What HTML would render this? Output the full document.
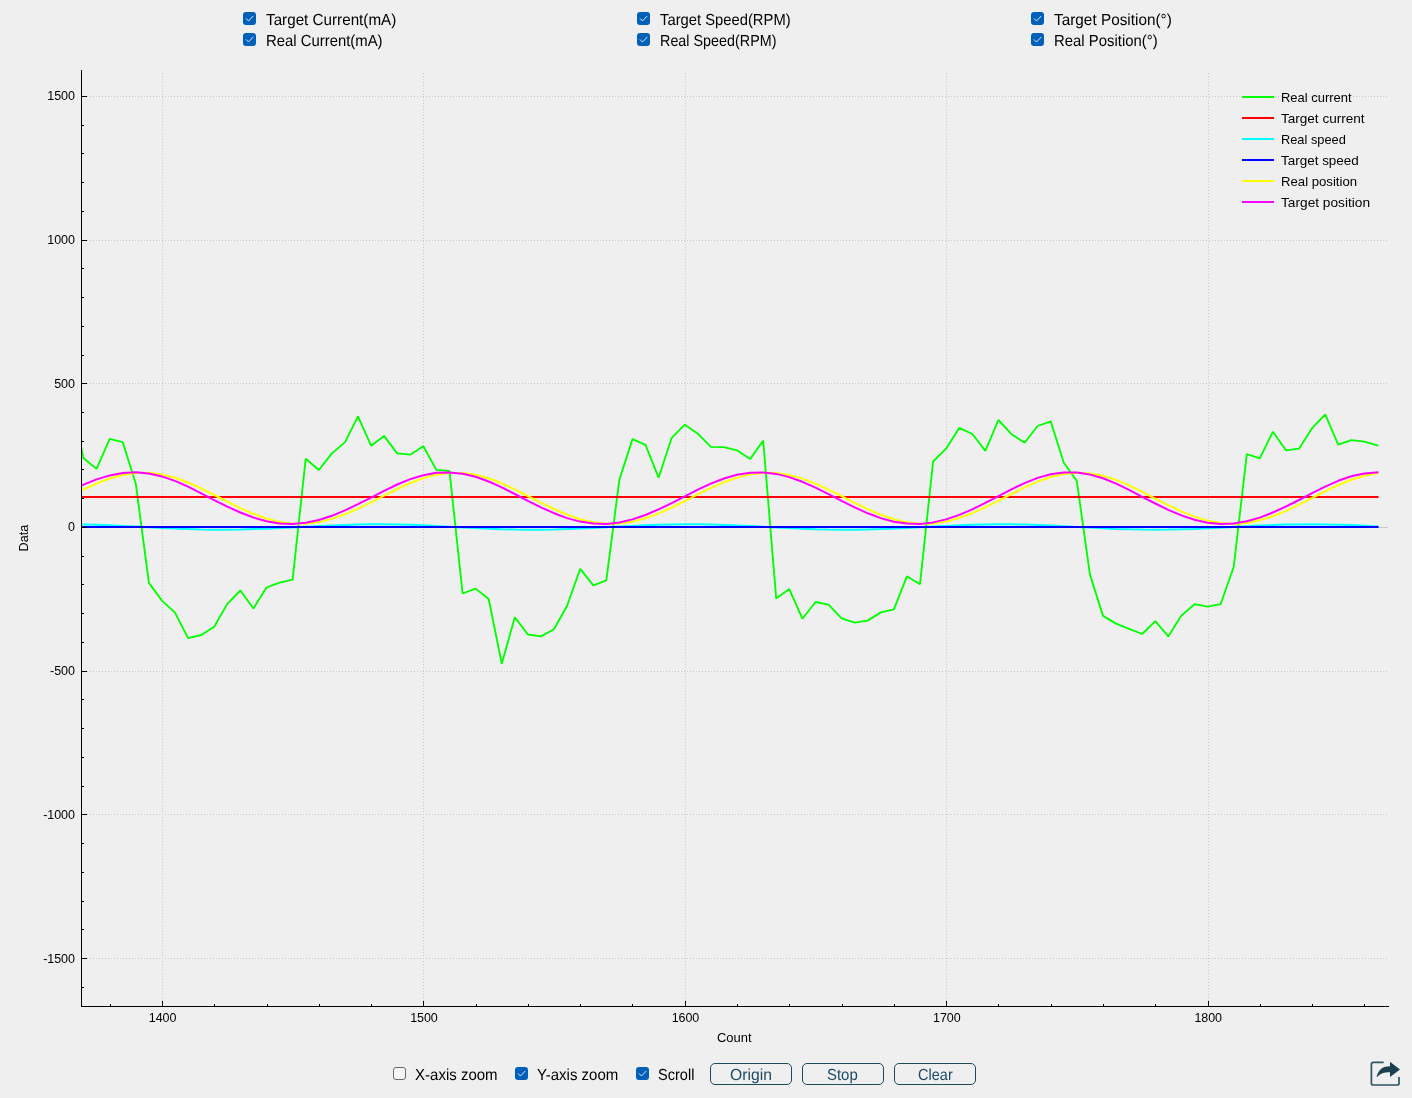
<!DOCTYPE html>
<html><head><meta charset="utf-8"><title>Plot</title>
<style>
html,body{margin:0;padding:0}
body{width:1412px;height:1098px;background:#efefef;position:relative;overflow:hidden;font-family:"Liberation Sans",sans-serif;color:#000}
#plot{position:absolute;left:0;top:0}
.t{position:absolute;white-space:nowrap;line-height:1}
.ui{}
.bt{color:#1e4a66}
.cb{position:absolute;width:13px;height:13px;border-radius:3px;background:#005fb8;box-sizing:border-box}
.cb svg{position:absolute;left:0;top:0}
.cb.off{background:#f6f6f6;border:1px solid #6a6a6a}
.yl{text-align:right;width:60px;color:#000}
.xl{text-align:center;width:60px;color:#000}
.lg{color:#000}
.ax{color:#000}
.btn{position:absolute;box-sizing:border-box;width:82px;height:22px;border:1px solid #1f4a5c;border-radius:5px}
</style></head><body>

<svg id="plot" width="1412" height="1098" viewBox="0 0 1412 1098">
<defs><clipPath id="cp"><rect x="82" y="70" width="1307" height="936"/></clipPath></defs>
<g shape-rendering="crispEdges" stroke="#c8c8c8" stroke-width="1" stroke-dasharray="1 2" fill="none">
<path d="M81 96.5H1388"/>
<path d="M81 240.5H1388"/>
<path d="M81 383.5H1388"/>
<path d="M81 671.5H1388"/>
<path d="M81 814.5H1388"/>
<path d="M81 958.5H1388"/>
<path d="M162.5 73V1006"/>
<path d="M423.5 73V1006"/>
<path d="M685.5 73V1006"/>
<path d="M946.5 73V1006"/>
<path d="M1208.5 73V1006"/>
</g>
<path d="M82 527.5H1388" stroke="#c8c8c8" stroke-width="1" shape-rendering="crispEdges"/>
<g clip-path="url(#cp)" fill="none" stroke-width="2" stroke-linejoin="bevel" stroke-linecap="square">
<polyline stroke="#00ff00" stroke-width="1.85" points="70.5,398.4 83.5,458.3 96.6,468.9 109.7,438.9 122.7,442.1 135.8,483.7 148.9,582.9 161.9,600.6 175.0,612.6 188.1,638.1 201.2,635.0 214.2,626.8 227.3,603.9 240.4,590.5 253.4,608.5 266.5,587.5 279.6,582.6 292.6,579.6 305.7,458.8 318.8,470.0 331.9,453.4 344.9,442.4 358.0,416.4 371.1,445.7 384.1,435.9 397.2,453.4 410.3,454.7 423.3,446.2 436.4,469.9 449.5,471.0 462.6,593.5 475.6,588.6 488.7,599.0 501.8,663.7 514.8,617.3 527.9,634.5 541.0,636.4 554.0,629.3 567.1,605.8 580.2,568.9 593.3,585.3 606.3,580.4 619.4,479.6 632.5,439.1 645.5,444.9 658.6,477.7 671.7,437.8 684.8,424.7 697.8,433.7 710.9,446.8 724.0,447.1 737.0,450.3 750.1,459.1 763.2,440.5 776.2,598.4 789.3,589.1 802.4,618.7 815.5,602.0 828.5,604.7 841.6,618.4 854.7,622.7 867.7,620.6 880.8,612.4 893.9,609.4 906.9,576.3 920.0,584.2 933.1,461.5 946.1,448.7 959.2,427.9 972.3,434.0 985.4,450.9 998.4,420.0 1011.5,434.2 1024.6,442.7 1037.6,426.0 1050.7,421.4 1063.8,462.7 1076.8,480.9 1089.9,574.4 1103.0,615.9 1116.1,623.6 1129.1,628.8 1142.2,634.0 1155.3,621.1 1168.3,636.4 1181.4,615.6 1194.5,604.2 1207.5,606.6 1220.6,604.2 1233.7,567.0 1246.8,454.2 1259.8,458.3 1272.9,431.8 1286.0,450.3 1299.0,448.7 1312.1,428.2 1325.2,414.3 1338.2,444.6 1351.3,440.2 1364.4,441.6 1377.5,445.4"/>
<polyline stroke="#ff0000" points="70.5,497 1377.5,497"/>
<polyline stroke="#00ffff" points="70.5,524.3 83.5,524.5 96.6,524.8 109.7,525.3 122.7,525.9 135.8,526.6 148.9,527.3 161.9,528.0 175.0,528.6 188.1,529.1 201.2,529.5 214.2,529.7 227.3,529.7 240.4,529.5 253.4,529.1 266.5,528.7 279.6,528.1 292.6,527.4 305.7,526.7 318.8,526.0 331.9,525.4 344.9,524.9 358.0,524.5 371.1,524.3 384.1,524.3 397.2,524.5 410.3,524.8 423.3,525.3 436.4,526.0 449.5,526.7 462.6,527.4 475.6,528.1 488.7,528.7 501.8,529.2 514.8,529.5 527.9,529.7 541.0,529.7 554.0,529.5 567.1,529.1 580.2,528.6 593.3,527.9 606.3,527.3 619.4,526.6 632.5,525.9 645.5,525.3 658.6,524.8 671.7,524.5 684.8,524.3 697.8,524.3 710.9,524.5 724.0,524.9 737.0,525.4 750.1,526.0 763.2,526.7 776.2,527.4 789.3,528.1 802.4,528.7 815.5,529.2 828.5,529.5 841.6,529.7 854.7,529.7 867.7,529.4 880.8,529.1 893.9,528.5 906.9,527.9 920.0,527.2 933.1,526.5 946.1,525.9 959.2,525.3 972.3,524.8 985.4,524.5 998.4,524.3 1011.5,524.3 1024.6,524.6 1037.6,525.0 1050.7,525.5 1063.8,526.2 1076.8,526.9 1089.9,527.6 1103.0,528.3 1116.1,528.9 1129.1,529.3 1142.2,529.6 1155.3,529.7 1168.3,529.6 1181.4,529.3 1194.5,528.9 1207.5,528.3 1220.6,527.7 1233.7,527.0 1246.8,526.3 1259.8,525.6 1272.9,525.1 1286.0,524.6 1299.0,524.4 1312.1,524.3 1325.2,524.4 1338.2,524.7 1351.3,525.1 1364.4,525.7 1377.5,526.4"/>
<polyline stroke="#0000ff" points="70.5,527 1377.5,527"/>
<polyline stroke="#ffff00" points="70.5,496.0 83.5,489.4 96.6,483.5 109.7,478.5 122.7,475.0 135.8,473.0 148.9,472.8 161.9,474.4 175.0,477.7 188.1,482.5 201.2,488.4 214.2,495.0 227.3,501.7 240.4,508.1 253.4,513.8 266.5,518.5 279.6,521.9 292.6,523.6 305.7,523.7 318.8,522.1 331.9,518.9 344.9,514.3 358.0,508.7 371.1,502.3 384.1,495.7 397.2,489.0 410.3,483.0 423.3,478.1 436.4,474.7 449.5,472.9 462.6,473.0 475.6,474.8 488.7,478.3 501.8,483.3 514.8,489.3 527.9,496.0 541.0,502.7 554.0,509.0 567.1,514.6 580.2,519.2 593.3,522.3 606.3,523.8 619.4,523.6 632.5,521.7 645.5,518.2 658.6,513.4 671.7,507.5 684.8,501.1 697.8,494.4 710.9,487.9 724.0,482.2 737.0,477.6 750.1,474.4 763.2,472.8 776.2,473.1 789.3,475.0 802.4,478.6 815.5,483.6 828.5,489.6 841.6,496.2 854.7,502.8 867.7,509.2 880.8,514.8 893.9,519.3 906.9,522.3 920.0,523.8 933.1,523.5 946.1,521.6 959.2,518.0 972.3,513.1 985.4,507.2 998.4,500.8 1011.5,494.0 1024.6,487.4 1037.6,481.6 1050.7,477.0 1063.8,474.0 1076.8,472.7 1089.9,473.4 1103.0,475.8 1116.1,479.9 1129.1,485.4 1142.2,491.8 1155.3,498.6 1168.3,505.2 1181.4,511.4 1194.5,516.6 1207.5,520.6 1220.6,523.1 1233.7,523.9 1246.8,522.9 1259.8,520.3 1272.9,516.2 1286.0,510.9 1299.0,504.7 1312.1,498.0 1325.2,491.3 1338.2,485.0 1351.3,479.7 1364.4,475.7 1377.5,473.3"/>
<polyline stroke="#ff00ff" points="70.5,490.8 83.5,484.6 96.6,479.4 109.7,475.4 122.7,473.0 135.8,472.3 148.9,473.5 161.9,476.4 175.0,480.9 188.1,486.7 201.2,493.3 214.2,500.1 227.3,506.6 240.4,512.5 253.4,517.5 266.5,521.2 279.6,523.4 292.6,524.0 305.7,522.8 318.8,520.0 331.9,515.8 344.9,510.4 358.0,504.2 371.1,497.6 384.1,490.8 397.2,484.5 410.3,479.1 423.3,475.2 436.4,472.8 449.5,472.4 462.6,473.7 475.6,476.8 488.7,481.5 501.8,487.4 514.8,494.0 527.9,500.8 541.0,507.3 554.0,513.2 567.1,518.1 580.2,521.6 593.3,523.6 606.3,523.9 619.4,522.5 632.5,519.4 645.5,515.0 658.6,509.4 671.7,503.1 684.8,496.4 697.8,489.7 710.9,483.6 724.0,478.5 737.0,474.8 750.1,472.7 763.2,472.4 776.2,473.9 789.3,477.1 802.4,481.8 815.5,487.6 828.5,494.2 841.6,500.9 854.7,507.4 867.7,513.3 880.8,518.1 893.9,521.7 906.9,523.6 920.0,523.9 933.1,522.4 946.1,519.4 959.2,514.9 972.3,509.3 985.4,502.9 998.4,496.2 1011.5,489.3 1024.6,483.1 1037.6,477.9 1050.7,474.3 1063.8,472.5 1076.8,472.6 1089.9,474.6 1103.0,478.3 1116.1,483.6 1129.1,489.9 1142.2,496.8 1155.3,503.5 1168.3,509.9 1181.4,515.4 1194.5,519.8 1207.5,522.7 1220.6,524.0 1233.7,523.5 1246.8,521.3 1259.8,517.6 1272.9,512.5 1286.0,506.5 1299.0,500.0 1312.1,493.1 1325.2,486.6 1338.2,480.8 1351.3,476.3 1364.4,473.4 1377.5,472.3"/>
</g>
<g shape-rendering="crispEdges" fill="#000">
<rect x="81" y="70" width="1" height="937"/>
<rect x="81" y="1006" width="1308" height="1"/>
<rect x="82" y="96" width="5" height="1"/>
<rect x="82" y="125" width="2" height="1"/>
<rect x="82" y="153" width="2" height="1"/>
<rect x="82" y="182" width="2" height="1"/>
<rect x="82" y="211" width="2" height="1"/>
<rect x="82" y="240" width="5" height="1"/>
<rect x="82" y="268" width="2" height="1"/>
<rect x="82" y="297" width="2" height="1"/>
<rect x="82" y="326" width="2" height="1"/>
<rect x="82" y="355" width="2" height="1"/>
<rect x="82" y="383" width="5" height="1"/>
<rect x="82" y="412" width="2" height="1"/>
<rect x="82" y="441" width="2" height="1"/>
<rect x="82" y="469" width="2" height="1"/>
<rect x="82" y="498" width="2" height="1"/>
<rect x="82" y="527" width="5" height="1"/>
<rect x="82" y="556" width="2" height="1"/>
<rect x="82" y="584" width="2" height="1"/>
<rect x="82" y="613" width="2" height="1"/>
<rect x="82" y="642" width="2" height="1"/>
<rect x="82" y="671" width="5" height="1"/>
<rect x="82" y="699" width="2" height="1"/>
<rect x="82" y="728" width="2" height="1"/>
<rect x="82" y="757" width="2" height="1"/>
<rect x="82" y="786" width="2" height="1"/>
<rect x="82" y="814" width="5" height="1"/>
<rect x="82" y="843" width="2" height="1"/>
<rect x="82" y="872" width="2" height="1"/>
<rect x="82" y="901" width="2" height="1"/>
<rect x="82" y="929" width="2" height="1"/>
<rect x="82" y="958" width="5" height="1"/>
<rect x="82" y="987" width="2" height="1"/>
<rect x="110" y="1004" width="1" height="2"/>
<rect x="162" y="1001" width="1" height="5"/>
<rect x="214" y="1004" width="1" height="2"/>
<rect x="267" y="1004" width="1" height="2"/>
<rect x="319" y="1004" width="1" height="2"/>
<rect x="371" y="1004" width="1" height="2"/>
<rect x="423" y="1001" width="1" height="5"/>
<rect x="476" y="1004" width="1" height="2"/>
<rect x="528" y="1004" width="1" height="2"/>
<rect x="580" y="1004" width="1" height="2"/>
<rect x="632" y="1004" width="1" height="2"/>
<rect x="685" y="1001" width="1" height="5"/>
<rect x="737" y="1004" width="1" height="2"/>
<rect x="789" y="1004" width="1" height="2"/>
<rect x="842" y="1004" width="1" height="2"/>
<rect x="894" y="1004" width="1" height="2"/>
<rect x="946" y="1001" width="1" height="5"/>
<rect x="998" y="1004" width="1" height="2"/>
<rect x="1051" y="1004" width="1" height="2"/>
<rect x="1103" y="1004" width="1" height="2"/>
<rect x="1155" y="1004" width="1" height="2"/>
<rect x="1208" y="1001" width="1" height="5"/>
<rect x="1260" y="1004" width="1" height="2"/>
<rect x="1312" y="1004" width="1" height="2"/>
<rect x="1364" y="1004" width="1" height="2"/>
</g>
<path d="M1242 97H1274" stroke="#00ff00" stroke-width="2"/>
<path d="M1242 118H1274" stroke="#ff0000" stroke-width="2"/>
<path d="M1242 139H1274" stroke="#00ffff" stroke-width="2"/>
<path d="M1242 160H1274" stroke="#0000ff" stroke-width="2"/>
<path d="M1242 181H1274" stroke="#ffff00" stroke-width="2"/>
<path d="M1242 202H1274" stroke="#ff00ff" stroke-width="2"/>
</svg>
<div class="cb" style="left:243px;top:12px"><svg width="13" height="13" viewBox="0 0 13 13"><path d="M3.2 6.7L5.5 9L10 4.2" fill="none" stroke="#fff" stroke-opacity="0.9" stroke-width="0.95" stroke-linecap="round" stroke-linejoin="round"/></svg></div>
<div class="cb" style="left:243px;top:33px"><svg width="13" height="13" viewBox="0 0 13 13"><path d="M3.2 6.7L5.5 9L10 4.2" fill="none" stroke="#fff" stroke-opacity="0.9" stroke-width="0.95" stroke-linecap="round" stroke-linejoin="round"/></svg></div>
<div class="t ui" style="left:265.7px;top:12.46px;font-size:16px;transform:scaleX(0.9516) skewX(0.1deg);transform-origin:0 0;">Target Current(mA)</div>
<div class="t ui" style="left:265.7px;top:33.46px;font-size:16px;transform:scaleX(0.9293) skewX(0.1deg);transform-origin:0 0;">Real Current(mA)</div>
<div class="cb" style="left:637px;top:12px"><svg width="13" height="13" viewBox="0 0 13 13"><path d="M3.2 6.7L5.5 9L10 4.2" fill="none" stroke="#fff" stroke-opacity="0.9" stroke-width="0.95" stroke-linecap="round" stroke-linejoin="round"/></svg></div>
<div class="cb" style="left:637px;top:33px"><svg width="13" height="13" viewBox="0 0 13 13"><path d="M3.2 6.7L5.5 9L10 4.2" fill="none" stroke="#fff" stroke-opacity="0.9" stroke-width="0.95" stroke-linecap="round" stroke-linejoin="round"/></svg></div>
<div class="t ui" style="left:659.7px;top:12.46px;font-size:16px;transform:scaleX(0.9237) skewX(0.1deg);transform-origin:0 0;">Target Speed(RPM)</div>
<div class="t ui" style="left:659.7px;top:33.46px;font-size:16px;transform:scaleX(0.8966) skewX(0.1deg);transform-origin:0 0;">Real Speed(RPM)</div>
<div class="cb" style="left:1031px;top:12px"><svg width="13" height="13" viewBox="0 0 13 13"><path d="M3.2 6.7L5.5 9L10 4.2" fill="none" stroke="#fff" stroke-opacity="0.9" stroke-width="0.95" stroke-linecap="round" stroke-linejoin="round"/></svg></div>
<div class="cb" style="left:1031px;top:33px"><svg width="13" height="13" viewBox="0 0 13 13"><path d="M3.2 6.7L5.5 9L10 4.2" fill="none" stroke="#fff" stroke-opacity="0.9" stroke-width="0.95" stroke-linecap="round" stroke-linejoin="round"/></svg></div>
<div class="t ui" style="left:1053.7px;top:12.46px;font-size:16px;transform:scaleX(0.9586) skewX(0.1deg);transform-origin:0 0;">Target Position(°)</div>
<div class="t ui" style="left:1053.7px;top:33.46px;font-size:16px;transform:scaleX(0.9306) skewX(0.1deg);transform-origin:0 0;">Real Position(°)</div>
<div class="t yl" style="left:14.8px;top:90.17px;font-size:12.5px;letter-spacing:-0.08px">1500</div>
<div class="t yl" style="left:14.8px;top:234.17px;font-size:12.5px;letter-spacing:-0.08px">1000</div>
<div class="t yl" style="left:14.8px;top:378.17px;font-size:12.5px;letter-spacing:-0.08px">500</div>
<div class="t yl" style="left:14.8px;top:521.17px;font-size:12.5px;letter-spacing:-0.08px">0</div>
<div class="t yl" style="left:14.8px;top:665.17px;font-size:12.5px;letter-spacing:-0.08px">-500</div>
<div class="t yl" style="left:14.8px;top:809.17px;font-size:12.5px;letter-spacing:-0.08px">-1000</div>
<div class="t yl" style="left:14.8px;top:953.17px;font-size:12.5px;letter-spacing:-0.08px">-1500</div>
<div class="t xl" style="left:132.6px;top:1011.92px;font-size:12.5px;letter-spacing:-0.08px">1400</div>
<div class="t xl" style="left:394.0px;top:1011.92px;font-size:12.5px;letter-spacing:-0.08px">1500</div>
<div class="t xl" style="left:655.5px;top:1011.92px;font-size:12.5px;letter-spacing:-0.08px">1600</div>
<div class="t xl" style="left:916.8px;top:1011.92px;font-size:12.5px;letter-spacing:-0.08px">1700</div>
<div class="t xl" style="left:1178.2px;top:1011.92px;font-size:12.5px;letter-spacing:-0.08px">1800</div>
<div class="t ax" style="left:716.9px;top:1031.21px;font-size:13.1px;transform:scaleX(0.9899);transform-origin:0 0;">Count</div>
<div class="t ax" style="left:24px;top:538.2px;font-size:13.1px;transform:translate(-50%,-50%) rotate(-90deg) scaleX(0.9685)">Data</div>
<div class="t lg" style="left:1281.0px;top:90.56px;font-size:13.1px;transform:scaleX(0.9884);transform-origin:0 0;">Real current</div>
<div class="t lg" style="left:1281.0px;top:111.56px;font-size:13.1px;transform:scaleX(1.0337);transform-origin:0 0;">Target current</div>
<div class="t lg" style="left:1281.0px;top:132.56px;font-size:13.1px;transform:scaleX(0.9781);transform-origin:0 0;">Real speed</div>
<div class="t lg" style="left:1281.0px;top:153.56px;font-size:13.1px;transform:scaleX(1.0275);transform-origin:0 0;">Target speed</div>
<div class="t lg" style="left:1281.0px;top:174.56px;font-size:13.1px;transform:scaleX(1.0052);transform-origin:0 0;">Real position</div>
<div class="t lg" style="left:1281.0px;top:195.56px;font-size:13.1px;transform:scaleX(1.0461);transform-origin:0 0;">Target position</div>
<div class="cb off" style="left:393px;top:1067px"></div>
<div class="t ui" style="left:414.6px;top:1067.26px;font-size:16px;transform:scaleX(0.9383) skewX(0.1deg);transform-origin:0 0;">X-axis zoom</div>
<div class="cb" style="left:515px;top:1067px"><svg width="13" height="13" viewBox="0 0 13 13"><path d="M3.2 6.7L5.5 9L10 4.2" fill="none" stroke="#fff" stroke-opacity="0.9" stroke-width="0.95" stroke-linecap="round" stroke-linejoin="round"/></svg></div>
<div class="t ui" style="left:536.8px;top:1067.26px;font-size:16px;transform:scaleX(0.9392) skewX(0.1deg);transform-origin:0 0;">Y-axis zoom</div>
<div class="cb" style="left:636px;top:1067px"><svg width="13" height="13" viewBox="0 0 13 13"><path d="M3.2 6.7L5.5 9L10 4.2" fill="none" stroke="#fff" stroke-opacity="0.9" stroke-width="0.95" stroke-linecap="round" stroke-linejoin="round"/></svg></div>
<div class="t ui" style="left:658.2px;top:1067.26px;font-size:16px;transform:scaleX(0.9096) skewX(0.1deg);transform-origin:0 0;">Scroll</div>
<div class="btn" style="left:710px;top:1063px"></div>
<div class="t bt" style="left:729.8px;top:1067.16px;font-size:16px;transform:scaleX(0.9816) skewX(0.1deg);transform-origin:0 0;">Origin</div>
<div class="btn" style="left:802px;top:1063px"></div>
<div class="t bt" style="left:827.1px;top:1067.16px;font-size:16px;transform:scaleX(0.9325) skewX(0.1deg);transform-origin:0 0;">Stop</div>
<div class="btn" style="left:894px;top:1063px"></div>
<div class="t bt" style="left:917.7px;top:1067.16px;font-size:16px;transform:scaleX(0.9076) skewX(0.1deg);transform-origin:0 0;">Clear</div>
<svg style="position:absolute;left:1366px;top:1056px" width="40" height="36" viewBox="0 0 40 36"><path d="M17.6 6.4H7.2Q5.4 6.4 5.4 8.2V27.2Q5.4 29 7.2 29H31.2Q33 29 33 27.2V21" fill="none" stroke="#2f5463" stroke-width="1.7"/><path d="M10.6 20.8C13 13 17 10.3 24 10.3V5.8L34 13.4L24 21V16.2C18 16.2 14 17.6 11.4 20.9Z" fill="#1c414e"/></svg>
</body></html>
